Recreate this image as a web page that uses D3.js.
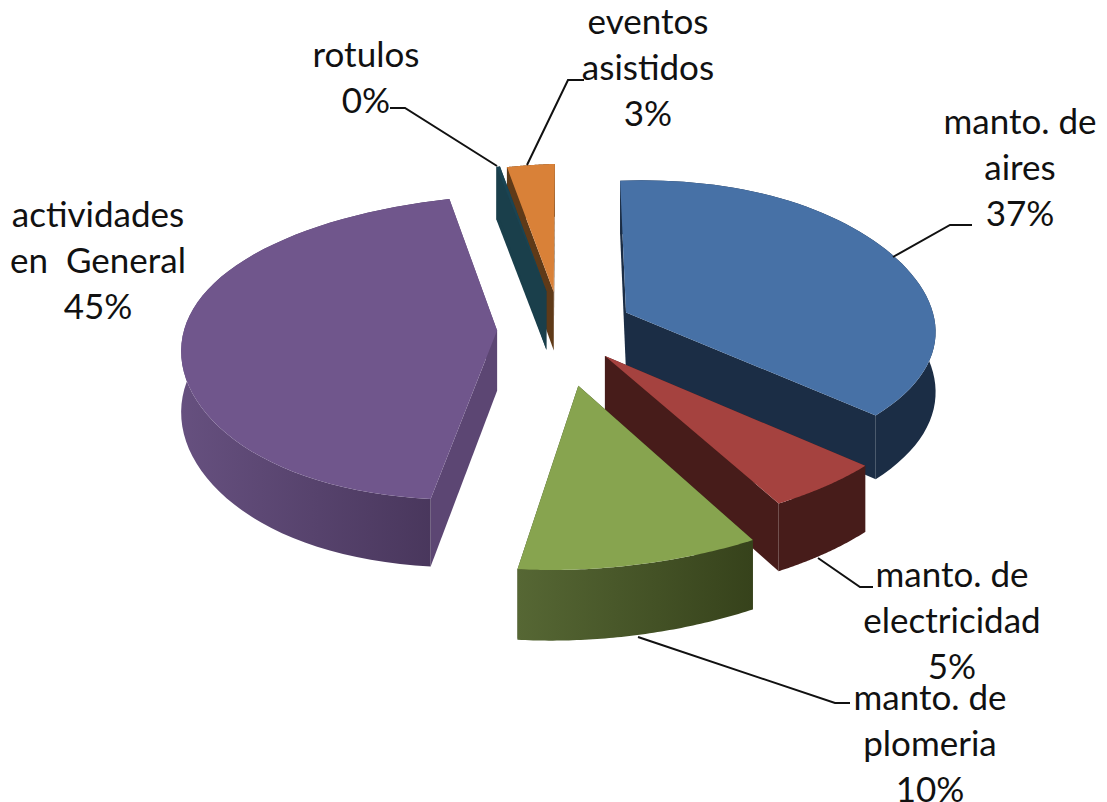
<!DOCTYPE html>
<html>
<head>
<meta charset="utf-8">
<script src="https://cdn.jsdelivr.net/npm/d3@7"></script>
<style>
  html, body { margin: 0; background: #fff; }
  text { font-family: Lato, "Open Sans", sans-serif; font-size: 35px; fill: #111; }
</style>
</head>
<body>
<svg id="chart" width="1107" height="802"></svg>
<script>
// pie data, same order as the original sheet
const categories = ['manto. de aires', 'manto. de electricidad', 'manto. de plomeria',
                    'actividades en General', 'rotulos', 'eventos asistidos'];
// slice sizes as they look in the picture
const values = [37.7, 5, 10.2, 44.6, 0.2, 2.7];
// percentages as printed on the chart
const percents = ['37%', '5%', '10%', '45%', '0%', '3%'];
const labelLines = [
    ['manto. de', 'aires'],
    ['manto. de', 'electricidad'],
    ['manto. de', 'plomeria'],
    ['actividades', 'en  General'],
    ['rotulos'],
    ['eventos', 'asistidos']
];

const topColors = ['#4771a6', '#a5423f', '#87a44f', '#70568c', '#1a4453', '#d98138'];
const cutColors = ['#1b2d45', '#471c1a', '#3a451f', '#5c4673', '#1a3f4b', '#5f3a18'];
const wallFrom = ['#1b2d45', '#471c1a', '#566734', '#66507f', '#1a3f4b', '#5f3a18'];
const wallTo = ['#1b2d45', '#471c1a', '#36421b', '#47355a', '#1a3f4b', '#5f3a18'];

// how far each slice is pulled out, in pie radii
const explode = [0.23, 0.24, 0.38, 0.2, 0.26, 0.25];
// back to front
const drawOrder = [5, 4, 3, 0, 1, 2];

// where the text blocks and the leader lines go
const labelPos = [[1020, 134], [952, 587], [930, 710], [98, 227], [366, 67], [648, 34]];
const leaders = [
    [[972, 225], [950, 225], [893, 257]],
    [[873, 587], [860, 587], [818, 558]],
    [[850, 703], [835, 703], [638, 637]],
    null,
    [[390, 108], [405, 108], [497, 166]],
    [[584, 80], [568, 80], [527, 165]]
];

const LINE_H = 46;
const DEPTH = 60;      // wall height before perspective
const PERSPECTIVE = 0.11;
const SHEAR = 0.17, SHEAR_FADE = 0.7;   // chart is turned a bit, middle leans most
const STEPS = 60;

const xScale = d3.scaleLinear().domain([-1, 1]).range([560 - 313, 560 + 313]);
const yScale = d3.scaleLinear().domain([-1, 1]).range([328 - 150, 328 + 150]);
const svg = d3.select('#chart');
const defs = svg.append('defs');

// p = [x, y] on the pie plane, z = 0 top or 1 bottom
function project(p, z) {
    let s = 1 / (1 - PERSPECTIVE * p[1]);
    let px = xScale(p[0]) - xScale(0);
    let py = yScale(p[1]) - yScale(0);
    let lean = SHEAR * (1 - SHEAR_FADE * p[0] * p[0]);
    return [
        xScale(0) + (px - py * lean) * s,
        yScale(0) + (py + z * DEPTH) * s
    ];
}

const pie = d3.pie().sort(null)
    .startAngle(-4.5 * Math.PI / 180)
    .endAngle(355.5 * Math.PI / 180);
const arcs = pie(values);
const line = d3.line();

function polygon(points) { return line(points) + 'Z'; }

function drawSlice(i) {
    let a = arcs[i];
    let mid = (a.startAngle + a.endAngle) / 2;
    let apex = [explode[i] * Math.sin(mid), -explode[i] * Math.cos(mid)];
    let rim = d3.range(STEPS + 1).map(k => {
        let t = a.startAngle + (a.endAngle - a.startAngle) * k / STEPS;
        return [apex[0] + Math.sin(t), apex[1] - Math.cos(t)];
    });
    let g = svg.append('g').attr('class', 'slice');

    let topRim = rim.map(p => project(p, 0));
    let botRim = rim.map(p => project(p, 1));

    let gradId = 'wall' + i;
    let xr = d3.extent(topRim, p => p[0]);
    let grad = defs.append('linearGradient').attr('id', gradId)
        .attr('gradientUnits', 'userSpaceOnUse')
        .attr('x1', xr[0]).attr('x2', xr[1]).attr('y1', 0).attr('y2', 0);
    grad.append('stop').attr('offset', 0).attr('stop-color', wallFrom[i]);
    grad.append('stop').attr('offset', 1).attr('stop-color', wallTo[i]);

    // the two cut faces
    [rim[0], rim[STEPS]].forEach(p => {
        g.append('path')
            .attr('d', polygon([project(apex, 0), project(p, 0), project(p, 1), project(apex, 1)]))
            .attr('fill', cutColors[i]);
    });
    // outer wall
    g.append('path')
        .attr('d', polygon(topRim.concat(botRim.slice().reverse())))
        .attr('fill', `url(#${gradId})`);
    // top
    g.append('path')
        .attr('d', polygon([project(apex, 0)].concat(topRim)))
        .attr('fill', topColors[i]);
}

drawOrder.forEach(drawSlice);

// leaders
svg.selectAll('path.leader')
    .data(leaders.filter(d => d))
    .join('path')
    .attr('class', 'leader')
    .attr('d', d => line(d))
    .attr('fill', 'none')
    .attr('stroke', '#111')
    .attr('stroke-width', 2);

// labels, last line is the percentage
categories.forEach((c, i) => {
    let lines = labelLines[i].concat(percents[i]);
    let t = svg.append('text').attr('text-anchor', 'middle');
    lines.forEach((s, k) => {
        t.append('tspan')
            .attr('x', labelPos[i][0])
            .attr('y', labelPos[i][1] + k * LINE_H)
            .attr('xml:space', 'preserve')
            .style('white-space', 'pre')
            .text(s);
    });
});
</script>
</body>
</html>
